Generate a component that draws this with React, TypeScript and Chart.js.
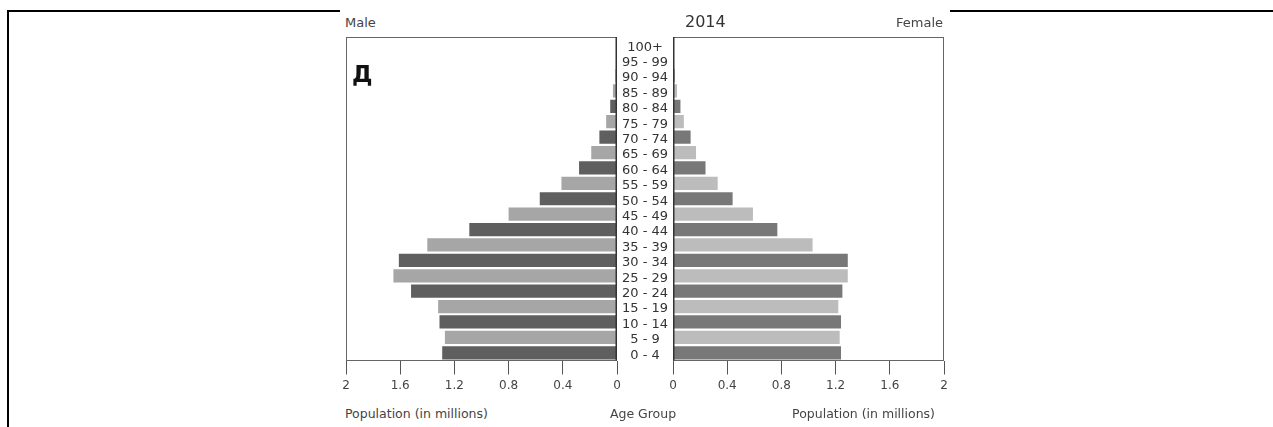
import React, { useEffect, useRef } from 'react';
import { Chart, registerables } from 'chart.js';

Chart.register(...registerables);

const ageGroups = [
  '0 - 4', '5 - 9', '10 - 14', '15 - 19', '20 - 24', '25 - 29', '30 - 34',
  '35 - 39', '40 - 44', '45 - 49', '50 - 54', '55 - 59', '60 - 64', '65 - 69',
  '70 - 74', '75 - 79', '80 - 84', '85 - 89', '90 - 94', '95 - 99', '100+',
];

const maleMillions = [
  1.29, 1.27, 1.31, 1.32, 1.52, 1.65, 1.61, 1.40, 1.09, 0.80, 0.57,
  0.41, 0.28, 0.19, 0.13, 0.08, 0.05, 0.03, 0.01, 0.003, 0.001,
];

const femaleMillions = [
  1.24, 1.23, 1.24, 1.22, 1.25, 1.29, 1.29, 1.03, 0.77, 0.59, 0.44,
  0.33, 0.24, 0.17, 0.13, 0.08, 0.055, 0.03, 0.012, 0.004, 0.001,
];

const xTickValues = [0, 0.4, 0.8, 1.2, 1.6, 2];

const FONT = "'DejaVu Sans', sans-serif";
const MALE_DARK = '#5f5f5f';
const MALE_LIGHT = '#a6a6a6';
const FEMALE_DARK = '#787878';
const FEMALE_LIGHT = '#bcbcbc';

const boxPlugin = {
  id: 'panelBox',
  afterDraw(chart: any, _args: any, opts: any) {
    const { ctx, chartArea: a } = chart;
    ctx.save();
    ctx.strokeStyle = '#666';
    ctx.lineWidth = 1;
    ctx.strokeRect(Math.round(a.left) + 0.5, Math.round(a.top) + 0.5, Math.round(a.right - a.left) - 1, Math.round(a.bottom - a.top) - 1);
    ctx.strokeStyle = '#333';
    ctx.lineWidth = 1.5;
    const x = opts.centerSide === 'right' ? Math.round(a.right) - 0.75 : Math.round(a.left) + 0.75;
    ctx.beginPath();
    ctx.moveTo(x, a.top);
    ctx.lineTo(x, a.bottom);
    ctx.stroke();
    ctx.restore();
  },
};

function makeConfig(isMale: boolean): any {
  const values = isMale ? maleMillions : femaleMillions;
  const dark = isMale ? MALE_DARK : FEMALE_DARK;
  const light = isMale ? MALE_LIGHT : FEMALE_LIGHT;
  const yScale: any = {
    type: 'category',
    reverse: true,
    display: !isMale,
    offset: true,
    grid: { display: false, drawTicks: false, tickLength: 0 },
    border: { display: false },
    ticks: {
      autoSkip: false,
      crossAlign: 'center',
      padding: 5,
      labelOffset: 2.5,
      color: '#333',
      font: { family: FONT, size: 13 },
    },
  };
  if (!isMale) {
    yScale.afterFit = (scale: any) => {
      scale.width = 56;
      scale.paddingTop = 0;
      scale.paddingBottom = 0;
    };
  }
  return {
    type: 'bar',
    data: {
      labels: ageGroups,
      datasets: [
        {
          label: isMale ? 'Male' : 'Female',
          data: values,
          backgroundColor: ageGroups.map((_, i) => (i % 2 === 0 ? dark : light)),
          borderWidth: 0,
          barPercentage: 0.86,
          categoryPercentage: 1,
        },
      ],
    },
    options: {
      indexAxis: 'y',
      responsive: false,
      animation: false,
      layout: { padding: { left: 10, right: 10, top: 5, bottom: 0.1 } },
      plugins: {
        legend: { display: false },
        tooltip: { enabled: false },
        title: { display: false },
        panelBox: { centerSide: isMale ? 'right' : 'left' },
      },
      scales: {
        x: {
          type: 'linear',
          min: 0,
          max: 2,
          reverse: isMale,
          afterBuildTicks: (scale: any) => {
            scale.ticks = xTickValues.map((v) => ({ value: v }));
          },
          ticks: {
            autoSkip: false,
            maxRotation: 0,
            padding: 4,
            color: '#444',
            font: { family: FONT, size: 12 },
            callback: (v: any) => String(Number(Number(v).toFixed(1))),
          },
          grid: { drawOnChartArea: false, drawTicks: true, tickLength: 14, color: '#555' },
          border: { display: false },
        },
        y: yScale,
      },
    },
    plugins: [boxPlugin],
  };
}

const textBase: React.CSSProperties = {
  position: 'absolute',
  fontFamily: FONT,
  color: '#444',
  whiteSpace: 'nowrap',
};

export default function App() {
  const maleRef = useRef<HTMLCanvasElement>(null);
  const femaleRef = useRef<HTMLCanvasElement>(null);

  useEffect(() => {
    const m = new Chart(maleRef.current as HTMLCanvasElement, makeConfig(true));
    const f = new Chart(femaleRef.current as HTMLCanvasElement, makeConfig(false));
    return () => {
      m.destroy();
      f.destroy();
    };
  }, []);

  return (
    <div style={{ position: 'absolute', left: 0, top: 0, width: 1273, height: 427, overflow: 'hidden', background: '#fff' }}>
      <div style={{ position: 'absolute', left: 7, top: 10, width: 2, height: 417, background: '#000' }} />
      <div style={{ position: 'absolute', left: 7, top: 10, width: 333, height: 2, background: '#000' }} />
      <div style={{ position: 'absolute', left: 950, top: 10, width: 323, height: 2, background: '#000' }} />

      <canvas
        ref={maleRef}
        width={291}
        height={365}
        style={{ position: 'absolute', left: 336, top: 32, width: 291, height: 365 }}
      />
      <canvas
        ref={femaleRef}
        width={347}
        height={365}
        style={{ position: 'absolute', left: 607, top: 32, width: 347, height: 365 }}
      />

      <div style={{ ...textBase, left: 345, top: 16, fontSize: 13, lineHeight: '13px' }}>Male</div>
      <div style={{ ...textBase, right: 330, top: 16, fontSize: 13, lineHeight: '13px' }}>Female</div>
      <div style={{ ...textBase, left: 685, top: 13.5, fontSize: 16, lineHeight: '16px', color: '#333' }}>2014</div>
      <div style={{ ...textBase, left: 352, top: 62.5, fontSize: 23, lineHeight: '23px', fontWeight: 'bold', color: '#111' }}>Д</div>

      <div style={{ ...textBase, left: 345, top: 408.4, fontSize: 12.5, lineHeight: '12.5px' }}>Population (in millions)</div>
      <div style={{ ...textBase, left: 643, top: 408.4, fontSize: 12.5, lineHeight: '12.5px', transform: 'translateX(-50%)' }}>Age Group</div>
      <div style={{ ...textBase, right: 338, top: 408.4, fontSize: 12.5, lineHeight: '12.5px' }}>Population (in millions)</div>
    </div>
  );
}
